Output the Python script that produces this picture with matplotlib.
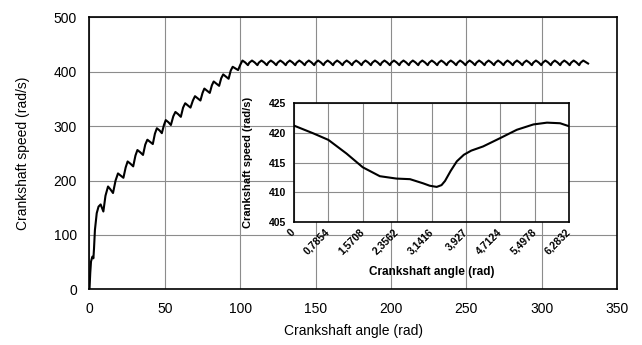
import matplotlib
matplotlib.use("Agg")
import matplotlib.pyplot as plt

# -------------------------------
# DATA
# -------------------------------

# main curve: crankshaft run-up, then steady-state ripple (rad, rad/s)
main_angle = [
    0.0, 0.5, 1.0, 1.9, 2.6, 3.0, 3.6, 4.8, 6.0, 7.4,
    9.2, 10.6, 12.3,
    13.8, 15.6, 17.3, 18.9,
    20.7, 22.5, 24.0, 25.3,
    27.1, 29.0, 30.5, 31.8,
    33.6, 35.5, 37.0, 38.4,
    40.2, 42.0, 43.4, 44.7,
    46.5, 48.0, 49.4, 50.6,
    52.4, 54.0, 55.6, 57.0,
    58.8, 60.6, 62.1, 63.5,
    65.3, 67.0, 68.6, 70.0,
    71.8, 73.6, 75.0, 76.2,
    78.0, 79.8, 81.2, 82.4,
    84.2, 86.0, 87.4, 88.7,
    90.5, 92.3, 93.7, 95.0,
    96.8, 98.6, 100.1,
    101.5, 103.3, 105.1, 106.0,
    107.8, 109.6, 111.4, 112.3,
    114.1, 115.9, 117.7, 118.6,
    120.3, 122.1, 123.9, 124.8,
    126.6, 128.4, 130.2, 131.1,
    132.9, 134.7, 136.5, 137.4,
    139.2, 141.0, 142.8, 143.7,
    145.5, 147.3, 149.1, 150.0,
    151.7, 153.5, 155.3, 156.2,
    158.0, 159.8, 161.6, 162.5,
    164.3, 166.1, 167.9, 168.8,
    170.6, 172.4, 174.2, 175.1,
    176.9, 178.7, 180.5, 181.4,
    183.1, 184.9, 186.7, 187.6,
    189.4, 191.2, 193.0, 193.9,
    195.7, 197.5, 199.3, 200.2,
    202.0, 203.8, 205.6, 206.5,
    208.3, 210.1, 211.9, 212.8,
    214.5, 216.3, 218.1, 219.0,
    220.8, 222.6, 224.4, 225.3,
    227.1, 228.9, 230.7, 231.6,
    233.4, 235.2, 237.0, 237.9,
    239.7, 241.5, 243.3, 244.2,
    245.9, 247.7, 249.5, 250.4,
    252.2, 254.0, 255.8, 256.7,
    258.5, 260.3, 262.1, 263.0,
    264.8, 266.6, 268.4, 269.3,
    271.1, 272.9, 274.7, 275.6,
    277.3, 279.1, 280.9, 281.8,
    283.6, 285.4, 287.2, 288.1,
    289.9, 291.7, 293.5, 294.4,
    296.2, 298.0, 299.8, 300.7,
    302.5, 304.3, 306.1, 307.0,
    308.7, 310.5, 312.3, 313.2,
    315.0, 316.8, 318.6, 319.5,
    321.3, 323.1, 324.9, 325.8,
    327.6, 329.4, 330.8,
]
main_speed = [
    0, 30, 51, 60, 57, 75, 109, 140, 152, 156,
    143, 172, 189,
    184, 177, 200, 213,
    209, 205, 224, 235,
    231, 226, 246, 256,
    252, 247, 266, 275,
    271, 267, 286, 296,
    292, 287, 302, 311,
    307, 302, 318, 326,
    322, 317, 334, 342,
    338, 334, 347, 355,
    351, 347, 361, 369,
    365, 361, 375, 382,
    378, 374, 388, 395,
    391, 387, 402, 409,
    406, 403, 413,
    420.5, 417.0, 412.0, 416.5,
    420.5, 417.0, 412.0, 416.5,
    420.5, 417.0, 412.0, 416.5,
    420.5, 417.0, 412.0, 416.5,
    420.5, 417.0, 412.0, 416.5,
    420.5, 417.0, 412.0, 416.5,
    420.5, 417.0, 412.0, 416.5,
    420.5, 417.0, 412.0, 416.5,
    420.5, 417.0, 412.0, 416.5,
    420.5, 417.0, 412.0, 416.5,
    420.5, 417.0, 412.0, 416.5,
    420.5, 417.0, 412.0, 416.5,
    420.5, 417.0, 412.0, 416.5,
    420.5, 417.0, 412.0, 416.5,
    420.5, 417.0, 412.0, 416.5,
    420.5, 417.0, 412.0, 416.5,
    420.5, 417.0, 412.0, 416.5,
    420.5, 417.0, 412.0, 416.5,
    420.5, 417.0, 412.0, 416.5,
    420.5, 417.0, 412.0, 416.5,
    420.5, 417.0, 412.0, 416.5,
    420.5, 417.0, 412.0, 416.5,
    420.5, 417.0, 412.0, 416.5,
    420.5, 417.0, 412.0, 416.5,
    420.5, 417.0, 412.0, 416.5,
    420.5, 417.0, 412.0, 416.5,
    420.5, 417.0, 412.0, 416.5,
    420.5, 417.0, 412.0, 416.5,
    420.5, 417.0, 412.0, 416.5,
    420.5, 417.0, 412.0, 416.5,
    420.5, 417.0, 412.0, 416.5,
    420.5, 417.0, 412.0, 416.5,
    420.5, 417.0, 412.0, 416.5,
    420.5, 417.0, 412.0, 416.5,
    420.5, 417.0, 412.0, 416.5,
    420.5, 417.0, 412.0, 416.5,
    420.5, 417.5, 415.0,
]

# inset: one revolution in steady state
inset_angle = [0.0, 0.44, 0.785, 1.2, 1.57, 1.96, 2.34, 2.65, 2.95, 3.1,
               3.26, 3.37, 3.45, 3.58, 3.72, 3.88, 4.05, 4.32, 4.71, 5.09,
               5.47, 5.78, 6.08, 6.2832]
inset_speed = [421.2, 419.9, 418.8, 416.5, 414.2, 412.7, 412.3, 412.2, 411.5, 411.1,
               410.9, 411.2, 411.9, 413.6, 415.2, 416.3, 417.0, 417.7, 419.1, 420.5,
               421.4, 421.7, 421.6, 421.1]
inset_ticks = [0, 0.7854, 1.5708, 2.3562, 3.1416, 3.927, 4.7124, 5.4978, 6.2832]
inset_tick_labels = ["0", "0,7854", "1,5708", "2,3562", "3,1416", "3,927",
                     "4,7124", "5,4978", "6,2832"]

# -------------------------------
# PLOT
# -------------------------------

plt.rcParams['font.family'] = ['Liberation Sans', 'DejaVu Sans']
grid_col = '#8c8c8c'

fig = plt.figure(figsize=(6.42, 3.45), dpi=100)

ax = fig.add_axes([0.1394, 0.1614, 0.8217, 0.7885])
ax.plot(main_angle, main_speed, color='black', lw=1.5)
ax.set_xlim(0, 350)
ax.set_ylim(0, 500)
ax.set_xticks(range(0, 351, 50))
ax.set_yticks(range(0, 501, 100))
ax.grid(True, color=grid_col, lw=0.8)
ax.set_axisbelow(True)
ax.tick_params(length=0, labelsize=10, pad=9)
for s in ax.spines.values():
    s.set_color('black')
    s.set_linewidth(1.2)
ax.set_xlabel("Crankshaft angle (rad)", fontsize=10, labelpad=6)
ax.set_ylabel("Crankshaft speed (rad/s)", fontsize=10, labelpad=17)

bold_font = ['Liberation Sans', 'DejaVu Sans']
ins = fig.add_axes([0.458, 0.3565, 0.4283, 0.3449])
ins.set_facecolor('white')
ins.plot(inset_angle, inset_speed, color='black', lw=1.5)
ins.set_xlim(0, 6.2832)
ins.set_ylim(405, 425)
ins.set_xticks(inset_ticks)
ins.set_xticklabels(inset_tick_labels, rotation=45, ha='right', va='center',
                    rotation_mode='anchor', fontsize=7.5, fontweight='bold',
                    family=bold_font)
ins.set_yticks(range(405, 426, 5))
ins.set_yticklabels([str(v) for v in range(405, 426, 5)], fontsize=7.5,
                    fontweight='bold', family=bold_font)
ins.grid(True, color=grid_col, lw=0.8)
ins.set_axisbelow(True)
ins.tick_params(axis='x', length=0, pad=6)
ins.tick_params(axis='y', length=0, pad=6)
for s in ins.spines.values():
    s.set_color('black')
    s.set_linewidth(1.2)
ins.set_xlabel("Crankshaft angle (rad)", fontsize=8.5, fontweight='bold',
               family=bold_font, labelpad=7)
ins.set_ylabel("Crankshaft speed (rad/s)", fontsize=8, fontweight='bold',
               family=bold_font, labelpad=11)

fig.savefig("out.png", dpi=100)
